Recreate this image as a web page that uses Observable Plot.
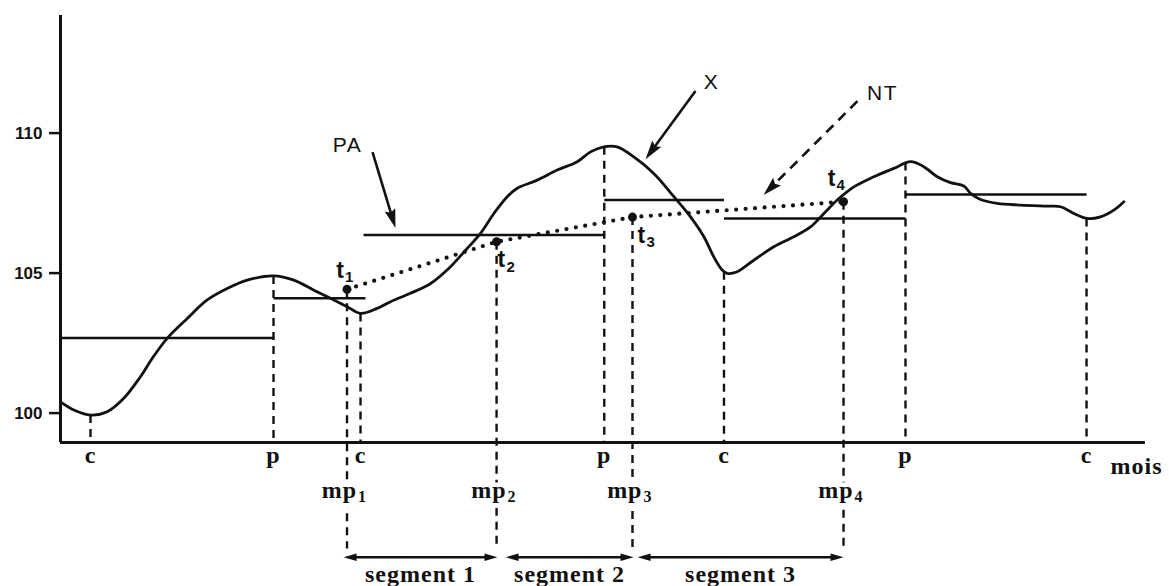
<!DOCTYPE html>
<html>
<head>
<meta charset="utf-8">
<script src="https://cdn.jsdelivr.net/npm/d3@7"></script>
<script src="https://cdn.jsdelivr.net/npm/@observablehq/plot@0.6"></script>
<style>
  html, body { margin: 0; padding: 0; background: #fff; }
  .serif-label text { letter-spacing: 1px; }
  .sans-label text { letter-spacing: 1.5px; }
</style>
</head>
<body>
<div id="chart"></div>
<script>
// Series X (index, by month)
const months = [0, 0.89, 2.0, 3.11, 4.22, 5.33, 6.11, 7.11, 8.45, 9.78, 11.11, 12.45, 14.22, 15.55, 16.89,
  18.0, 19.11, 20.0, 21.11, 22.0, 23.33, 24.67, 26.0, 27.11, 28.0, 28.89, 29.78, 30.45, 31.78, 33.11,
  34.45, 35.33, 36.22, 37.11, 38.22, 39.55, 40.89, 42.0, 42.89, 43.55, 44.11, 44.45, 45.11, 46.22,
  47.55, 48.89, 50.0, 50.89, 51.78, 52.89, 54.22, 55.55, 56.67, 57.55, 58.45, 59.33, 60.22, 60.67,
  61.33, 62.45, 64.0, 65.78, 66.67, 67.55, 68.45, 69.33, 70.22, 70.89];
const values = [100.40, 100.11, 99.93, 100.05, 100.53, 101.30, 101.95, 102.67, 103.38, 104.04, 104.45, 104.75, 104.90, 104.75, 104.39,
  104.10, 103.80, 103.56, 103.74, 103.98, 104.28, 104.63, 105.23, 105.88, 106.42, 107.13, 107.73, 108.03, 108.32, 108.68,
  108.98, 109.33, 109.51, 109.51, 109.15, 108.56, 107.73, 107.01, 106.30, 105.58, 105.11, 104.99, 105.05, 105.46,
  105.94, 106.30, 106.65, 107.13, 107.61, 108.08, 108.44, 108.74, 108.98, 108.80, 108.44, 108.23, 108.11, 107.85,
  107.63, 107.49, 107.43, 107.39, 107.37, 107.13, 106.95, 107.01, 107.25, 107.55];

// Turning points: troughs (c) and peaks (p)
const troughMonths = [2.0, 20.0, 44.23, 68.4];
const troughValues = [99.93, 103.56, 105.05, 106.95];
const peakMonths = [14.2, 36.25, 56.33];
const peakValues = [104.90, 109.51, 108.95];

// Phase averages (PA), one level per phase
const paStart = [0, 14.2, 20.2, 36.25, 44.23, 56.33];
const paEnd = [14.2, 20.33, 36.25, 44.23, 56.33, 68.4];
const paValue = [102.68, 104.10, 106.36, 107.61, 106.95, 107.81];

// Mid-phase points t1..t4 at months mp1..mp4 (they trace the trend NT)
const midMonths = [19.1, 29.07, 38.13, 52.2];
const midValues = [104.42, 106.12, 107.0, 107.55];
const midIndex = ["1", "2", "3", "4"];

// Segments between successive mid-phase months
const segNames = ["segment 1", "segment 2", "segment 3"];
const segStart = [18.87, 29.67, 38.47];
const segEnd = [29.13, 38.2, 52.2];

// Value axis ticks
const yTicks = [100, 105, 110];

// Pointer annotations: label position, arrow tail and tip
const notes = ["PA", "X", "NT"];
const noteMonth = [19.13, 43.4, 54.8];
const noteValue = [109.57, 111.82, 111.43];
const tailMonth = [20.8, 42.33, 53.13];
const tailValue = [109.32, 111.5, 111.14];
const tipMonth = [22.33, 39.0, 46.87];
const tipValue = [106.61, 109.07, 107.79];
const noteDashed = [false, false, true];

// ---- layout ----
const W = 1169, H = 586;
const mL = 60, mR = 24, mT = 15, mB = 144;
const xDomain = [0, 72.33];
const yDomain = [98.95, 114.2];
const yBase = yDomain[0];
const mpFoot = 95.16;        // lower end of the mp guide lines
const segmentLevel = 94.85;  // level of the segment arrows under the month axis
const labelMonth = 70;       // "mois" label

// pixel offsets of each t label: letter and its index
const tPlace = [
  {anchor: "end", dx: -3, dy: -11, sdx: -2, sdy: -7},
  {anchor: "start", dx: 1, dy: 25, sdx: 10, sdy: 30},
  {anchor: "start", dx: 5, dy: 26, sdx: 14, sdy: 30},
  {anchor: "end", dx: -8, dy: -16, sdx: -7, sdy: -12}
];

// matching scales, only used to orient arrowheads on screen
const xs = d3.scaleLinear(xDomain, [mL, W - mR]);
const ys = d3.scaleLinear(yDomain, [H - mB, mT]);
const screenAngle = (x1, y1, x2, y2) =>
  Math.atan2(xs(x2) - xs(x1), -(ys(y2) - ys(y1))) * 180 / Math.PI;

// filled arrowheads, tip at the origin pointing up
const bigHead = {draw(ctx) { ctx.moveTo(0, 0); ctx.lineTo(5.5, 19); ctx.lineTo(0, 16); ctx.lineTo(-5.5, 19); ctx.closePath(); }};
const smallHead = {draw(ctx) { ctx.moveTo(0, 0); ctx.lineTo(3.8, 13); ctx.lineTo(-3.8, 13); ctx.closePath(); }};

const series = months.map((m, i) => ({month: m, value: values[i]}));
const turning = [
  ...troughMonths.map((m, i) => ({month: m, value: troughValues[i], kind: "c"})),
  ...peakMonths.map((m, i) => ({month: m, value: peakValues[i], kind: "p"}))
];
const phases = paStart.map((s, i) => ({start: s, end: paEnd[i], value: paValue[i]}));
const mids = midMonths.map((m, i) => ({month: m, value: midValues[i], sub: midIndex[i], i}));
const segments = segNames.map((n, i) => ({name: n, start: segStart[i], end: segEnd[i]}));
const segHeads = segments.flatMap(s => [
  {month: s.start, angle: screenAngle(s.end, segmentLevel, s.start, segmentLevel)},
  {month: s.end, angle: screenAngle(s.start, segmentLevel, s.end, segmentLevel)}
]);
const pointers = notes.map((n, i) => ({
  name: n, lx: noteMonth[i], ly: noteValue[i],
  x1: tailMonth[i], y1: tailValue[i], x2: tipMonth[i], y2: tipValue[i],
  dashed: noteDashed[i],
  angle: screenAngle(tailMonth[i], tailValue[i], tipMonth[i], tipValue[i])
}));

const serif = "Liberation Serif, Times New Roman, serif";
const sans = "Liberation Sans, Arial, sans-serif";
const ink = "#111";

// t labels: a letter plus a smaller index
const tLabelMarks = mids.flatMap(d => {
  const p = tPlace[d.i];
  return [
    Plot.text([d], {x: "month", y: "value", text: () => "t", textAnchor: p.anchor === "end" ? "end" : "start",
      lineAnchor: "bottom", dx: p.dx, dy: p.dy, fontSize: 23, fontWeight: "bold", fontFamily: sans, fill: ink}),
    Plot.text([d], {x: "month", y: "value", text: "sub", textAnchor: "start",
      lineAnchor: "bottom", dx: p.sdx, dy: p.sdy, fontSize: 15, fontWeight: "bold", fontFamily: sans, fill: ink})
  ];
});

// mp labels: white backing breaks the guide lines
const mpText = (extra) => [
  Plot.text(mids, {x: "month", y: () => yBase, text: () => "mp", textAnchor: "end", lineAnchor: "bottom",
    dx: 10, dy: 55, fontSize: 24, fontWeight: "bold", fontFamily: serif, className: "serif-label", ...extra}),
  Plot.text(mids, {x: "month", y: () => yBase, text: "sub", textAnchor: "start", lineAnchor: "bottom",
    dx: 11, dy: 59, fontSize: 16, fontWeight: "bold", fontFamily: serif, ...extra})
];

const chart = Plot.plot({
  width: W, height: H,
  marginLeft: mL, marginRight: mR, marginTop: mT, marginBottom: mB,
  style: {background: "#fff", overflow: "visible"},
  x: {domain: xDomain, axis: null},
  y: {domain: yDomain, axis: null},
  marks: [
    // axes
    Plot.ruleX([0], {stroke: ink, strokeWidth: 3}),
    Plot.ruleY([yBase], {stroke: ink, strokeWidth: 3}),
    Plot.axisY(yTicks, {tickSize: 11, tickPadding: 7, label: null, stroke: ink, strokeWidth: 2.5,
      fontSize: 17, fontWeight: "bold", fontFamily: sans, fill: ink}),

    // guide lines at the turning points
    Plot.link(turning, {x1: "month", x2: "month", y1: "value", y2: () => yBase,
      stroke: ink, strokeWidth: 2.4, strokeDasharray: "8,6"}),
    // guide lines at the mid-phase months
    Plot.link(mids, {x1: "month", x2: "month", y1: "value", y2: () => mpFoot,
      stroke: ink, strokeWidth: 2.4, strokeDasharray: "8,6"}),

    // phase averages
    Plot.link(phases, {x1: "start", x2: "end", y1: "value", y2: "value", stroke: ink, strokeWidth: 2.5}),

    // series X
    Plot.line(series, {x: "month", y: "value", curve: "catmull-rom", stroke: ink, strokeWidth: 2.8}),

    // trend NT through t1..t4
    Plot.line(mids, {x: "month", y: "value", stroke: ink, strokeWidth: 4.2,
      strokeDasharray: "0,9.5", strokeLinecap: "round"}),
    Plot.dot(mids, {x: "month", y: "value", r: 4.5, fill: ink, stroke: "none"}),

    ...tLabelMarks,

    // c / p labels on the month axis
    Plot.text(turning, {x: "month", y: () => yBase, text: "kind", lineAnchor: "bottom", dy: 20,
      fontSize: 24, fontWeight: "bold", fontFamily: serif, fill: ink, className: "serif-label"}),

    ...mpText({fill: "#fff", stroke: "#fff", strokeWidth: 9}),
    ...mpText({fill: ink}),

    // segment arrows
    Plot.arrow(segments, {x1: "start", x2: "end", y1: () => segmentLevel, y2: () => segmentLevel,
      headLength: 0, insetStart: 8, insetEnd: 8, stroke: ink, strokeWidth: 2.4, strokeLinecap: "butt"}),
    Plot.dot(segHeads, {x: "month", y: () => segmentLevel, symbol: smallHead, rotate: "angle", r: 5,
      fill: ink, stroke: "none"}),
    Plot.text(segments, {x: d => (d.start + d.end) / 2, y: () => yBase, text: "name", lineAnchor: "bottom",
      dy: 139, fontSize: 24, fontWeight: "bold", fontFamily: serif, fill: ink, className: "serif-label"}),

    // pointers
    Plot.arrow(pointers, {filter: d => !d.dashed, x1: "x1", y1: "y1", x2: "x2", y2: "y2",
      headLength: 0, insetEnd: 12, stroke: ink, strokeWidth: 2.6, strokeLinecap: "butt"}),
    Plot.arrow(pointers, {filter: d => d.dashed, x1: "x1", y1: "y1", x2: "x2", y2: "y2",
      headLength: 0, insetEnd: 12, stroke: ink, strokeWidth: 2.6, strokeLinecap: "butt",
      strokeDasharray: "10,7"}),
    Plot.dot(pointers, {x: "x2", y: "y2", symbol: bigHead, rotate: "angle", r: 6, fill: ink, stroke: "none"}),
    Plot.text(pointers, {x: "lx", y: "ly", text: "name", fontSize: 21, fontFamily: sans, fill: ink,
      className: "sans-label"}),

    // month axis name
    Plot.text(["mois"], {x: () => labelMonth, y: () => yBase, text: d => d, textAnchor: "start",
      lineAnchor: "bottom", dy: 31, fontSize: 24, fontWeight: "bold", fontFamily: serif, fill: ink,
      className: "serif-label"})
  ]
});

document.getElementById("chart").appendChild(chart);
</script>
</body>
</html>
